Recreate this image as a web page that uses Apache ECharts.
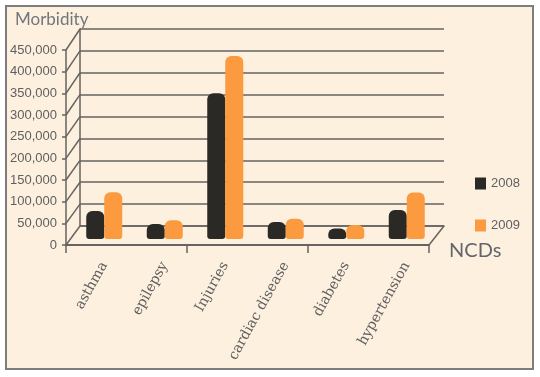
<!DOCTYPE html>
<html>
<head>
<meta charset="utf-8">
<style>html,body{margin:0;padding:0;background:#fff}#c{width:540px;height:377px}</style>
<script src="https://cdn.jsdelivr.net/npm/echarts@6/dist/echarts.min.js"></script>
</head>
<body>
<div id="c"></div>
<script>
const categories = ['asthma','epilepsy','Injuries','cardiac disease','diabetes','hypertension'];
const series2008 = [64000,34000,333000,39000,24000,66000];
const series2009 = [107000,43000,418000,46000,32000,106000];
const yTicks = [0,50000,100000,150000,200000,250000,300000,350000,400000,450000];
const yAxisTitle = 'Morbidity';
const xAxisTitle = 'NCDs';

const chart = echarts.init(document.getElementById('c'), null, {renderer:'canvas'});
const LINE = '#666360', TXT = '#5f5f5f';
const hideAxis = {axisLine:{show:false},axisTick:{show:false},axisLabel:{show:false},splitLine:{show:false}};
const yBase = {type:'value',min:0,max:450000,interval:50000};

chart.setOption({
  animation:false,
  backgroundColor:'#ffffff',
  graphic:[{type:'rect',z:-10,shape:{x:6,y:6,width:527,height:363},style:{fill:'#fdf0df',stroke:'#7d7d7d',lineWidth:2}}],
  title:[
    {text:yAxisTitle,left:10,top:6,textStyle:{fontFamily:'Lato',fontSize:17,fontWeight:'normal',color:'#72767c'}},
    {text:xAxisTitle,left:444,top:236,textStyle:{fontFamily:'Lato',fontSize:20,fontWeight:'normal',color:'#62666c'}}
  ],
  legend:{orient:'vertical',left:470,top:172,itemWidth:11,itemHeight:12,itemGap:29,icon:'rect',
    textStyle:{fontFamily:'Liberation Sans',fontSize:13,color:'#5f5f5f'},data:['2008','2009']},
  grid:[
    {left:66,top:50,width:363,height:195},   // front axes
    {left:80,top:29,width:364,height:197},   // back wall
    {left:74,top:42,width:363,height:197}    // bars
  ],
  xAxis:[
    {gridIndex:0,type:'category',data:categories,boundaryGap:true,
      axisLine:{lineStyle:{color:LINE,width:2}},axisTick:{show:true,length:8,alignWithLabel:false,lineStyle:{color:LINE,width:1.5}},axisLabel:{show:false}},
    {gridIndex:1,type:'category',data:categories,axisLine:{lineStyle:{color:LINE,width:1.5}},axisTick:{show:false},axisLabel:{show:false}},
    {gridIndex:2,type:'category',data:categories,axisLine:{show:false},axisTick:{show:false},
      axisLabel:{interval:0,rotate:61,margin:24,fontFamily:'DejaVu Serif',fontSize:14,color:'#5f5f5f'}}
  ],
  yAxis:[
    Object.assign({},yBase,{gridIndex:0,
      axisLine:{show:true,lineStyle:{color:LINE,width:1.5}},
      axisTick:{show:true,length:4,lineStyle:{color:LINE,width:1.5}},
      splitLine:{show:false},
      axisLabel:{margin:9,fontFamily:'Liberation Sans',fontSize:13,color:TXT,formatter:v=>v.toLocaleString('en-US')}}),
    Object.assign({},yBase,{gridIndex:1,
      axisLine:{show:true,lineStyle:{color:LINE,width:1.5}},axisTick:{show:false},axisLabel:{show:false},
      splitLine:{show:true,lineStyle:{color:LINE,width:1.5}}}),
    Object.assign({},yBase,{gridIndex:2},hideAxis)
  ],
  series:[
    {type:'custom',xAxisIndex:0,yAxisIndex:0,z:1,silent:true,
      data:yTicks.map(v=>[0,v]),
      renderItem:function(params,api){
        const v=api.value(1), cs=params.coordSys;
        const fy=api.coord([0,v])[1];
        const by=chart.convertToPixel({yAxisIndex:1},v);
        const style={stroke:LINE,lineWidth:1.5,fill:null};
        const kids=[{type:'line',shape:{x1:cs.x,y1:fy,x2:80,y2:by},style}];
        if(v===0) kids.push({type:'line',shape:{x1:cs.x+cs.width,y1:fy,x2:444,y2:by},style});
        return {type:'group',children:kids};
      }},
    {name:'2008',type:'bar',xAxisIndex:2,yAxisIndex:2,z:5,data:series2008,barWidth:18,barGap:0,
      itemStyle:{color:'#2b2926',borderRadius:[6,6,3,3]}},
    {name:'2009',type:'bar',xAxisIndex:2,yAxisIndex:2,z:5,data:series2009,barWidth:18,barGap:0,
      itemStyle:{color:'#fb9a3f',borderRadius:[6,6,3,3]}}
  ]
});
</script>
</body>
</html>
